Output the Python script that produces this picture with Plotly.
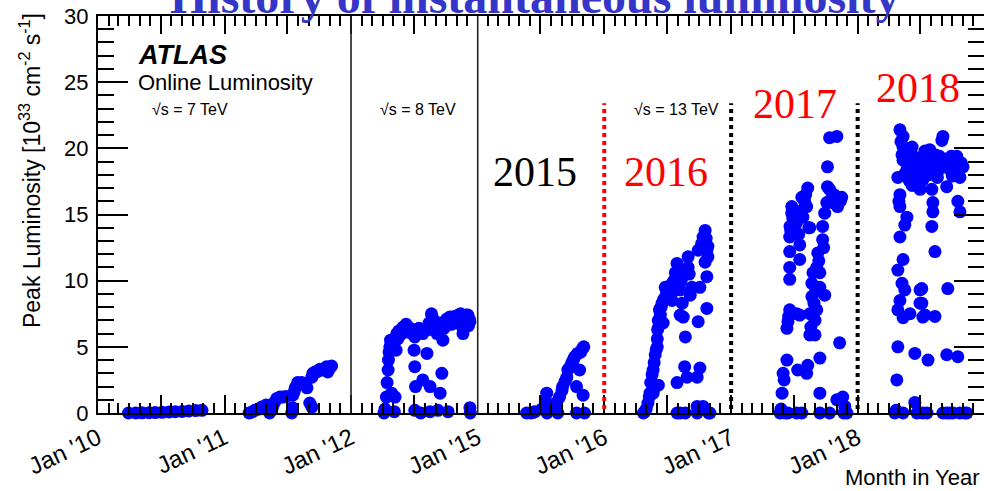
import plotly.graph_objects as go

# ---------------- data (date, peak luminosity in 1e33 cm^-2 s^-1) ----------------
pts_2010 = [("2010-03-30", 0.0), ("2010-04-20", 0.0), ("2010-05-08", 0.01), ("2010-05-28", 0.02),
            ("2010-06-15", 0.03), ("2010-07-05", 0.05), ("2010-07-25", 0.08), ("2010-08-12", 0.1),
            ("2010-09-01", 0.12), ("2010-09-20", 0.15), ("2010-10-10", 0.18), ("2010-10-28", 0.2)]

pts_2011 = [("2011-03-13", 0.0), ("2011-03-20", 0.05), ("2011-03-29", 0.2), ("2011-04-10", 0.3),
            ("2011-04-18", 0.45), ("2011-05-01", 0.6), ("2011-05-11", 0.0), ("2011-05-17", 0.2),
            ("2011-05-20", 0.5), ("2011-05-25", 0.8), ("2011-06-01", 1.1), ("2011-06-10", 1.2),
            ("2011-06-18", 1.2), ("2011-06-28", 1.25), ("2011-07-14", 0.0), ("2011-07-16", 0.4),
            ("2011-07-17", 1.35), ("2011-07-21", 1.6), ("2011-07-24", 1.9), ("2011-07-31", 2.3),
            ("2011-08-06", 2.2), ("2011-08-12", 2.3), ("2011-08-20", 2.1), ("2011-08-27", 1.9),
            ("2011-09-04", 0.75), ("2011-09-10", 0.45), ("2011-09-10", 2.7), ("2011-09-13", 3.0),
            ("2011-09-19", 3.1), ("2011-09-24", 3.1), ("2011-09-29", 3.2), ("2011-10-03", 3.3),
            ("2011-10-09", 3.25), ("2011-10-16", 3.3), ("2011-10-23", 3.5), ("2011-10-26", 3.1),
            ("2011-11-01", 3.4), ("2011-11-06", 3.55)]

pts_2012 = [("2012-04-05", 0.0), ("2012-04-08", 0.3), ("2012-04-12", 1.2), ("2012-04-14", 2.3),
            ("2012-04-17", 3.25), ("2012-04-18", 4.0), ("2012-04-20", 4.6), ("2012-04-22", 5.0),
            ("2012-04-24", 5.5), ("2012-04-27", 1.5), ("2012-05-05", 0.1), ("2012-05-07", 1.2),
            ("2012-05-10", 4.75), ("2012-05-12", 6.0), ("2012-05-15", 5.6), ("2012-05-18", 6.2),
            ("2012-05-22", 5.9), ("2012-05-25", 6.3), ("2012-05-30", 6.5), ("2012-06-02", 6.1),
            ("2012-06-05", 6.4), ("2012-06-08", 6.7), ("2012-06-12", 6.5), ("2012-06-15", 6.2),
            ("2012-06-19", 6.4), ("2012-06-25", 6.0), ("2012-06-28", 6.3), ("2012-07-03", 5.75),
            ("2012-07-01", 4.75), ("2012-07-03", 3.5), ("2012-07-05", 2.0), ("2012-07-03", 0.2),
            ("2012-07-10", 6.2), ("2012-07-15", 6.4), ("2012-07-26", 6.0), ("2012-07-26", 2.5),
            ("2012-07-20", 0.0), ("2012-08-01", 6.3), ("2012-08-07", 4.5), ("2012-08-10", 6.3),
            ("2012-08-13", 6.8), ("2012-08-16", 2.0), ("2012-08-16", 0.1), ("2012-08-20", 7.5),
            ("2012-08-22", 7.25), ("2012-08-24", 6.5), ("2012-08-30", 6.9), ("2012-09-05", 6.0),
            ("2012-09-08", 0.2), ("2012-09-10", 6.8), ("2012-09-14", 6.5), ("2012-09-14", 1.5),
            ("2012-09-19", 3.0), ("2012-09-22", 5.5), ("2012-09-25", 6.4), ("2012-09-28", 6.9),
            ("2012-10-03", 7.1), ("2012-10-07", 0.1), ("2012-10-12", 7.25), ("2012-10-16", 6.7),
            ("2012-10-20", 7.0), ("2012-10-25", 7.3), ("2012-10-29", 6.8), ("2012-11-02", 7.0),
            ("2012-11-06", 7.4), ("2012-11-10", 6.8), ("2012-11-12", 7.5), ("2012-11-15", 6.6),
            ("2012-11-19", 7.25), ("2012-11-19", 6.0), ("2012-11-25", 7.0), ("2012-11-28", 7.4),
            ("2012-12-01", 6.8), ("2012-12-03", 7.4), ("2012-12-05", 6.6), ("2012-12-07", 7.1),
            ("2012-12-09", 6.9), ("2012-12-09", 0.4), ("2012-12-10", 0.0)]

pts_2015 = [("2015-05-22", 0.0), ("2015-06-03", 0.0), ("2015-06-10", 0.05), ("2015-06-15", 0.1),
            ("2015-07-05", 0.3), ("2015-07-15", 1.0), ("2015-07-19", 1.5), ("2015-07-20", 0.0),
            ("2015-08-05", 0.4), ("2015-08-17", 0.8), ("2015-08-20", 0.0), ("2015-08-25", 1.2),
            ("2015-09-01", 1.7), ("2015-09-03", 2.0), ("2015-09-10", 2.4), ("2015-09-15", 2.7),
            ("2015-09-18", 3.25), ("2015-09-22", 3.4), ("2015-09-29", 3.75), ("2015-10-02", 3.9),
            ("2015-10-05", 4.1), ("2015-10-08", 4.25), ("2015-10-13", 2.0), ("2015-10-13", 0.0),
            ("2015-10-16", 4.5), ("2015-10-22", 3.25), ("2015-10-25", 4.6), ("2015-10-31", 4.9),
            ("2015-11-01", 1.35), ("2015-11-03", 5.0), ("2015-11-05", 0.0)]

pts_2016 = [("2016-04-23", 0.0), ("2016-04-27", 0.1), ("2016-05-01", 0.3), ("2016-05-06", 0.75),
            ("2016-05-10", 1.2), ("2016-05-12", 1.5), ("2016-05-14", 2.3), ("2016-05-18", 2.9),
            ("2016-05-21", 3.25), ("2016-05-21", 1.5), ("2016-05-24", 3.8), ("2016-05-27", 4.4),
            ("2016-05-30", 4.8), ("2016-06-02", 5.0), ("2016-06-02", 5.6), ("2016-06-03", 6.3),
            ("2016-06-05", 7.0), ("2016-06-05", 2.1), ("2016-06-07", 6.6), ("2016-06-08", 7.8),
            ("2016-06-11", 7.4), ("2016-06-13", 8.0), ("2016-06-16", 8.3), ("2016-06-19", 6.8),
            ("2016-06-21", 8.6), ("2016-06-25", 9.5), ("2016-06-28", 9.0), ("2016-07-01", 8.8),
            ("2016-07-05", 9.2), ("2016-07-09", 9.6), ("2016-07-12", 9.0), ("2016-07-15", 9.8),
            ("2016-07-15", 8.5), ("2016-07-20", 10.0), ("2016-07-24", 10.6), ("2016-07-27", 10.2),
            ("2016-07-29", 11.3), ("2016-07-29", 2.3), ("2016-07-29", 0.0), ("2016-08-02", 10.8),
            ("2016-08-07", 9.3), ("2016-08-07", 7.4), ("2016-08-07", 0.0), ("2016-08-10", 10.0),
            ("2016-08-13", 10.3), ("2016-08-13", 8.3), ("2016-08-16", 7.25), ("2016-08-20", 3.5),
            ("2016-08-22", 5.75), ("2016-08-22", 0.0), ("2016-08-27", 2.7), ("2016-08-30", 11.8),
            ("2016-08-30", 11.0), ("2016-09-02", 10.5), ("2016-09-05", 8.9), ("2016-09-10", 9.5),
            ("2016-09-25", 2.7), ("2016-09-25", 0.0), ("2016-09-25", 0.5), ("2016-09-28", 6.9),
            ("2016-09-28", 12.3), ("2016-10-03", 9.5), ("2016-10-03", 3.4), ("2016-10-08", 12.8),
            ("2016-10-12", 13.3), ("2016-10-12", 0.5), ("2016-10-15", 12.9), ("2016-10-18", 13.8),
            ("2016-10-18", 11.4), ("2016-10-21", 13.2), ("2016-10-23", 12.3), ("2016-10-23", 10.3),
            ("2016-10-23", 7.9), ("2016-10-26", 11.8), ("2016-10-26", 12.6), ("2016-10-28", 0.0),
            ("2016-11-01", 0.0)]

pts_2017 = [("2017-05-22", 0.0), ("2017-05-25", 0.3), ("2017-05-28", 1.5), ("2017-05-31", 3.0),
            ("2017-06-03", 2.5), ("2017-06-06", 0.0), ("2017-06-11", 4.0), ("2017-06-11", 6.4),
            ("2017-06-14", 6.9), ("2017-06-14", 0.0), ("2017-06-16", 7.3), ("2017-06-19", 7.8),
            ("2017-06-19", 10.1), ("2017-06-19", 11.0), ("2017-06-19", 12.2), ("2017-06-19", 13.3),
            ("2017-06-20", 14.1), ("2017-06-22", 13.8), ("2017-06-25", 15.1), ("2017-06-25", 15.6),
            ("2017-06-28", 14.7), ("2017-07-02", 15.0), ("2017-07-05", 14.2), ("2017-07-09", 14.4),
            ("2017-07-09", 7.5), ("2017-07-09", 0.0), ("2017-07-12", 3.25), ("2017-07-15", 13.5),
            ("2017-07-18", 12.7), ("2017-07-18", 11.6), ("2017-07-18", 7.4), ("2017-07-21", 15.0),
            ("2017-07-24", 15.3), ("2017-07-24", 16.3), ("2017-07-24", 0.0), ("2017-07-27", 14.8),
            ("2017-08-01", 16.0), ("2017-08-04", 16.5), ("2017-08-07", 15.6), ("2017-08-07", 3.0),
            ("2017-08-10", 17.0), ("2017-08-10", 3.6), ("2017-08-13", 14.0), ("2017-08-16", 14.0),
            ("2017-08-16", 7.5), ("2017-08-16", 5.9), ("2017-08-19", 6.5), ("2017-08-22", 8.8),
            ("2017-08-22", 9.8), ("2017-08-25", 10.6), ("2017-08-28", 8.3), ("2017-08-31", 5.9),
            ("2017-08-31", 7.0), ("2017-09-02", 9.2), ("2017-09-05", 11.0), ("2017-09-05", 7.8),
            ("2017-09-08", 12.1), ("2017-09-11", 11.5), ("2017-09-14", 10.6), ("2017-09-14", 9.5),
            ("2017-09-14", 4.15), ("2017-09-14", 1.5), ("2017-09-14", 0.0), ("2017-09-22", 14.1),
            ("2017-09-22", 13.1), ("2017-09-25", 12.5), ("2017-09-28", 15.1), ("2017-09-28", 8.9),
            ("2017-10-04", 15.9), ("2017-10-06", 17.1), ("2017-10-06", 18.6), ("2017-10-12", 20.8),
            ("2017-10-12", 16.9), ("2017-10-12", 0.0), ("2017-10-18", 16.2), ("2017-10-21", 15.9),
            ("2017-10-25", 16.5), ("2017-11-02", 20.9), ("2017-11-02", 1.0), ("2017-11-04", 15.6),
            ("2017-11-10", 5.3), ("2017-11-12", 16.0), ("2017-11-16", 16.3), ("2017-11-19", 1.2),
            ("2017-11-22", 0.0), ("2017-11-25", 0.5), ("2017-12-01", 0.0)]

pts_2018 = [("2018-04-18", 0.0), ("2018-04-22", 0.2), ("2018-04-24", 2.5), ("2018-04-27", 5.0),
            ("2018-04-27", 7.8), ("2018-04-27", 10.8), ("2018-04-27", 17.8), ("2018-04-30", 16.0),
            ("2018-05-03", 8.5), ("2018-05-03", 13.3), ("2018-05-03", 15.6), ("2018-05-03", 16.5),
            ("2018-05-03", 21.4), ("2018-05-06", 20.5), ("2018-05-09", 9.8), ("2018-05-09", 19.5),
            ("2018-05-12", 20.9), ("2018-05-12", 20.1), ("2018-05-12", 19.1), ("2018-05-12", 11.6),
            ("2018-05-12", 7.2), ("2018-05-12", 0.0), ("2018-05-15", 18.0), ("2018-05-17", 14.2),
            ("2018-05-17", 9.3), ("2018-05-20", 19.6), ("2018-05-23", 14.8), ("2018-05-23", 18.4),
            ("2018-05-27", 19.0), ("2018-05-29", 17.6), ("2018-06-01", 7.5), ("2018-06-01", 17.5),
            ("2018-06-04", 18.5), ("2018-06-07", 20.1), ("2018-06-07", 17.2), ("2018-06-10", 18.9),
            ("2018-06-13", 18.2), ("2018-06-15", 17.8), ("2018-06-15", 4.5), ("2018-06-15", 0.8),
            ("2018-06-18", 19.3), ("2018-06-21", 0.0), ("2018-06-24", 18.0), ("2018-06-27", 19.0),
            ("2018-06-30", 16.9), ("2018-06-30", 9.3), ("2018-06-30", 8.3), ("2018-07-03", 18.2),
            ("2018-07-05", 9.4), ("2018-07-05", 8.3), ("2018-07-08", 17.6), ("2018-07-08", 7.25),
            ("2018-07-08", 0.0), ("2018-07-11", 18.8), ("2018-07-14", 7.4), ("2018-07-14", 19.8),
            ("2018-07-17", 19.3), ("2018-07-20", 18.6), ("2018-07-20", 0.0), ("2018-07-23", 4.0),
            ("2018-07-25", 18.0), ("2018-07-28", 19.9), ("2018-07-31", 18.4), ("2018-08-03", 16.9),
            ("2018-08-03", 14.1), ("2018-08-06", 15.9), ("2018-08-06", 15.2), ("2018-08-09", 18.5),
            ("2018-08-12", 12.2), ("2018-08-12", 7.3), ("2018-08-14", 19.5), ("2018-08-17", 19.1),
            ("2018-08-19", 17.8), ("2018-08-21", 18.3), ("2018-08-25", 19.4), ("2018-08-28", 18.7),
            ("2018-09-01", 20.6), ("2018-09-04", 20.9), ("2018-09-04", 19.1), ("2018-09-04", 0.0),
            ("2018-09-08", 18.6), ("2018-09-12", 19.2), ("2018-09-15", 17.1), ("2018-09-15", 4.4),
            ("2018-09-15", 0.0), ("2018-09-18", 9.4), ("2018-09-21", 18.9), ("2018-09-24", 18.4),
            ("2018-09-24", 0.0), ("2018-09-28", 19.4), ("2018-10-01", 17.9), ("2018-10-03", 18.8),
            ("2018-10-03", 0.0), ("2018-10-07", 19.2), ("2018-10-10", 18.3), ("2018-10-14", 19.4),
            ("2018-10-17", 16.0), ("2018-10-17", 4.25), ("2018-10-19", 18.5), ("2018-10-23", 17.8),
            ("2018-10-23", 15.2), ("2018-10-23", 0.0), ("2018-10-27", 18.9), ("2018-11-01", 18.6),
            ("2018-11-05", 0.0), ("2018-11-12", 0.0)]

run1_years = [pts_2010, pts_2011, pts_2012]
run2_years = [pts_2015, pts_2016, pts_2017, pts_2018]

# separators
dotted_lines = [("2016-01-01", "red"), ("2017-01-01", "black"), ("2018-01-01", "black")]

year_labels = [("2015", "black", 0.4932, 0.607), ("2016", "red", 0.6411, 0.607),
               ("2017", "red", 0.7867, 0.778), ("2018", "red", 0.9255, 0.819)]
energy_labels = [("√s = 7 TeV", 0.0587), ("√s = 8 TeV", 0.316), ("√s = 13 TeV", 0.6027)]

MARK = dict(size=13, color="#0000ff", line=dict(width=0))

fig = go.Figure()
for pts in run1_years:
    fig.add_trace(go.Scatter(x=[p[0] for p in pts], y=[p[1] for p in pts], mode="markers",
                             marker=MARK, xaxis="x", yaxis="y", cliponaxis=False,
                             showlegend=False, hoverinfo="skip"))
for pts in run2_years:
    fig.add_trace(go.Scatter(x=[p[0] for p in pts], y=[p[1] for p in pts], mode="markers",
                             marker=MARK, xaxis="x2", yaxis="y", cliponaxis=False,
                             showlegend=False, hoverinfo="skip"))
# empty trace to create right-hand mirrored y axis
fig.add_trace(go.Scatter(x=[], y=[], xaxis="x2", yaxis="y2", showlegend=False))

tickfont = dict(family="Liberation Sans, Arial, sans-serif", size=22, color="black")
xtickfont = dict(family="Liberation Sans, Arial, sans-serif", size=24, color="black")
xcommon = dict(type="date", showline=True, linecolor="black", linewidth=2, mirror="ticks",
               ticks="inside", ticklen=18, tickwidth=1.5, tickcolor="black",
               dtick="M6", ticklabelstep=2, tickformat="%b '%y", tickangle=-25,
               tickfont=xtickfont, showgrid=False, zeroline=False, automargin=False,
               anchor="y")
fig.update_layout(
    xaxis=dict(**xcommon, domain=[0, 3 / 7], range=["2010-01-01", "2012-12-31 12:00"],
               tick0="2010-01-01",
               minor=dict(ticks="inside", ticklen=10, tickwidth=1.5, tickcolor="black",
                          dtick="M1", tick0="2010-01-01", showgrid=False)),
    xaxis2=dict(**xcommon, domain=[3 / 7, 1], range=["2015-01-01", "2018-12-31 12:00"],
                tick0="2015-01-01",
                minor=dict(ticks="inside", ticklen=10, tickwidth=1.5, tickcolor="black",
                           dtick="M1", tick0="2015-01-01", showgrid=False)),
    yaxis=dict(range=[0, 30], dtick=5, ticks="inside", ticklen=30, tickwidth=1.5,
               tickcolor="black", showline=True, linecolor="black", linewidth=2,
               tickfont=tickfont, showgrid=False, zeroline=False, automargin=False,
               anchor="x", ticklabelstandoff=3,
               minor=dict(ticks="inside", ticklen=16, tickwidth=1.5, tickcolor="black",
                          dtick=1, showgrid=False)),
    yaxis2=dict(range=[0, 30], dtick=5, ticks="inside", ticklen=30, tickwidth=1.5,
                tickcolor="black", showline=True, linecolor="black", linewidth=2,
                showticklabels=False, showgrid=False, zeroline=False, automargin=False,
                anchor="x2", overlaying="y", side="right",
                minor=dict(ticks="inside", ticklen=16, tickwidth=1.5, tickcolor="black",
                           dtick=1, showgrid=False)),
    width=984, height=491,
    margin=dict(l=98, r=0, t=16, b=78),
    plot_bgcolor="white", paper_bgcolor="white",
)

shapes = [dict(type="line", xref="x", yref="y", x0="2012-01-01", x1="2012-01-01", y0=0, y1=30,
               line=dict(color="#222222", width=1.6)),
          dict(type="line", xref="paper", yref="y", x0=3 / 7, x1=3 / 7, y0=0, y1=30,
               line=dict(color="#222222", width=1.6))]
for xv, col in dotted_lines:
    shapes.append(dict(type="line", xref="x2", yref="y", x0=xv, x1=xv, y0=0.3, y1=23.4,
                       line=dict(color=col, width=4, dash="dot")))
fig.update_layout(shapes=shapes)

ann = []
sans = "Liberation Sans, Arial, sans-serif"
serif = "Liberation Serif, Times New Roman, serif"
ann.append(dict(text="<b>History of instantaneous luminosity</b>", xref="paper", yref="paper",
                x=0.4932, y=1.05, xanchor="center", yanchor="middle", showarrow=False,
                font=dict(family=serif, size=48, color="#3535c8")))
ann.append(dict(text="<b><i>ATLAS</i></b>", xref="paper", yref="paper", x=0.0429, y=0.902,
                xanchor="left", yanchor="middle", showarrow=False,
                font=dict(family=sans, size=27, color="black")))
ann.append(dict(text="Online Luminosity", xref="paper", yref="paper", x=0.0429, y=0.832,
                xanchor="left", yanchor="middle", showarrow=False,
                font=dict(family=sans, size=22, color="black")))
for txt, xp in energy_labels:
    ann.append(dict(text=txt, xref="paper", yref="paper", x=xp, y=0.765,
                    xanchor="left", yanchor="middle", showarrow=False,
                    font=dict(family=sans, size=16, color="black")))
for txt, col, xp, yp in year_labels:
    ann.append(dict(text=txt, xref="paper", yref="paper", x=xp, y=yp,
                    xanchor="center", yanchor="middle", showarrow=False,
                    font=dict(family=serif, size=42, color=col)))
ann.append(dict(text="Peak Luminosity [10<sup>33</sup> cm<sup>-2</sup> s<sup>-1</sup>]",
                xref="paper", yref="paper", x=-0.0767, y=0.6096, textangle=-90,
                xanchor="center", yanchor="middle", showarrow=False,
                font=dict(family=sans, size=23, color="black")))
ann.append(dict(text="Month in Year", xref="paper", yref="paper", x=0.9977, y=-0.1637,
                xanchor="right", yanchor="middle", showarrow=False,
                font=dict(family=sans, size=22, color="black")))
fig.update_layout(annotations=ann)

fig.write_html("out.html")
